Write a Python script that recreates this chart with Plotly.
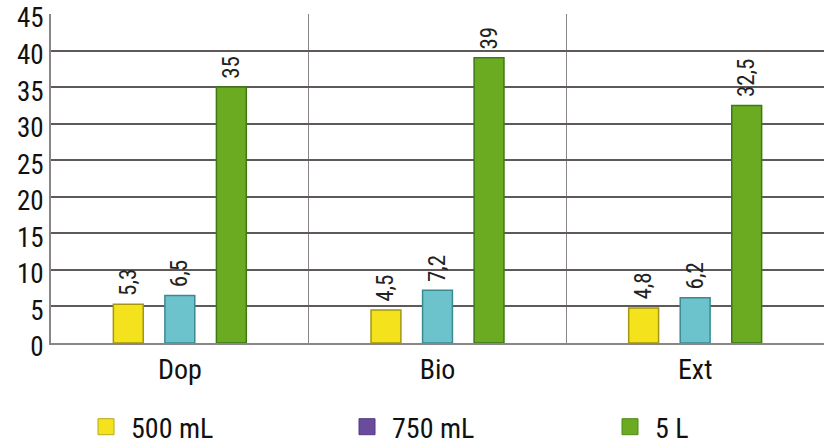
import plotly.graph_objects as go

categories = ["Dop", "Bio", "Ext"]
series_names = ["500 mL", "750 mL", "5 L"]
values_500ml = [5.3, 4.5, 4.8]
values_750ml = [6.5, 7.2, 6.2]
values_5l = [35, 39, 32.5]
y_ticks = [0, 5, 10, 15, 20, 25, 30, 35, 40, 45]

bar_fill = ["#f4e31c", "#6cc3cb", "#6aab22"]
bar_edge = ["#a39613", "#3b8a92", "#3e7a14"]
legend_fill = ["#f4e31c", "#6a4c9c", "#6aab22"]
legend_edge = ["#b8a918", "#54397e", "#4f8a1a"]
legend_ids = ["legend", "legend2", "legend3"]
legend_x = [81, 342, 605]  # left edge of each legend entry, px

FONT = "Roboto Condensed, Liberation Sans Narrow, DejaVu Sans Condensed, Arial Narrow, sans-serif"
W, H = 824, 445
M_L, M_R, M_T, M_B = 51, 0, 14, 102


def fmt(v):
    return " " + f"{v:g}".replace(".", ",")


fig = go.Figure()
for name, vals, fc, ec in zip(series_names, [values_500ml, values_750ml, values_5l], bar_fill, bar_edge):
    fig.add_trace(go.Bar(
        x=categories, y=vals, name=name, showlegend=False,
        marker=dict(color=fc, line=dict(color=ec, width=1.5)),
        text=[fmt(v) for v in vals], textposition="outside", textangle=-90,
        constraintext="none",
        textfont=dict(family=FONT, size=23, color="#222"),
        cliponaxis=False,
    ))

# legend swatches, one legend box per series
for name, fc, ec, lid in zip(series_names, legend_fill, legend_edge, legend_ids):
    fig.add_trace(go.Scatter(
        x=[None], y=[None], mode="markers", name=name, legend=lid,
        marker=dict(symbol="square", size=18, color=fc, line=dict(color=ec, width=1)),
    ))

legend_layout = {}
for lid, lx in zip(legend_ids, legend_x):
    legend_layout[lid] = dict(
        orientation="h", xref="container", x=lx / W, xanchor="left",
        yref="container", y=(H - 427) / H, yanchor="middle",
        font=dict(family=FONT, size=28, color="#111"),
        itemwidth=40,
        bgcolor="rgba(0,0,0,0)",
    )

fig.update_layout(
    width=W, height=H,
    margin=dict(l=M_L, r=M_R, t=M_T, b=M_B, autoexpand=False),
    plot_bgcolor="white", paper_bgcolor="white",
    barmode="group", bargap=0.4, bargroupgap=0.42,
    font=dict(family=FONT, size=28, color="#111"),
    showlegend=True,
    xaxis=dict(
        type="category", tickson="boundaries", showgrid=True,
        gridcolor="#8a8686", gridwidth=1,
        showline=True, linecolor="#8a8686", linewidth=2,
        ticks="", ticklen=0, tickfont=dict(family=FONT, size=28, color="#111"),
        fixedrange=True,
    ),
    yaxis=dict(
        range=[0, 45], tickvals=y_ticks, showgrid=True,
        gridcolor="#5e5a5a", gridwidth=2,
        showline=True, linecolor="#8a8686", linewidth=2,
        zeroline=False, ticks="",
        ticklabelshift=4, ticklabeloverflow="allow",
        tickfont=dict(family=FONT, size=27, color="#111"),
        fixedrange=True,
    ),
    **legend_layout,
)

fig.write_html("out.html")
